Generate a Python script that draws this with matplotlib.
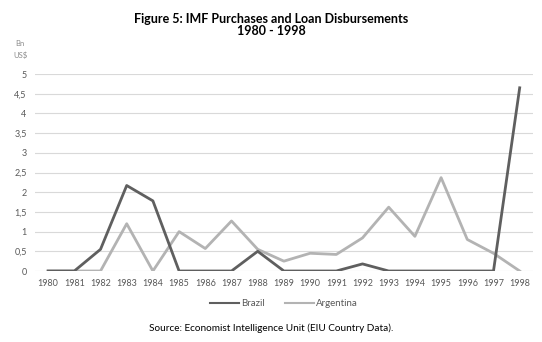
import matplotlib
matplotlib.use("Agg")
import matplotlib.pyplot as plt
from matplotlib.ticker import FuncFormatter

years = [str(y) for y in range(1980, 1999)]
brazil = [0, 0, 0.55, 2.17, 1.78, 0, 0, 0, 0.5, 0, 0, 0, 0.18, 0, 0, 0, 0, 0, 4.65]
argentina = [0, 0, 0, 1.2, 0, 1.0, 0.57, 1.27, 0.55, 0.25, 0.45, 0.42, 0.84,
             1.62, 0.88, 2.37, 0.8, 0.45, 0]
yticks = [0, 0.5, 1, 1.5, 2, 2.5, 3, 3.5, 4, 4.5, 5]

plt.rcParams["font.family"] = ["Lato", "DejaVu Sans"]

fig = plt.figure(figsize=(5.42, 3.42), dpi=100)
ax = fig.add_axes([0.0646, 0.2076, 0.9184, 0.576])

x = list(range(len(years)))
ax.plot(x, brazil, color="#5f5f5f", lw=2.0, label="Brazil", zorder=3)
ax.plot(x, argentina, color="#b3b3b3", lw=2.0, label="Argentina", zorder=2)

ax.set_xlim(-0.5, len(years) - 0.5)
ax.set_ylim(0, 5)
ax.set_xticks(x)
ax.set_xticklabels(years)
ax.set_yticks(yticks)
ax.yaxis.set_major_formatter(FuncFormatter(lambda v, p: f"{v:g}".replace(".", ",")))
ax.grid(axis="y", color="#d9d9d9", lw=0.8)
ax.set_axisbelow(True)
for s in ax.spines.values():
    s.set_visible(False)
ax.tick_params(length=0, labelsize=6.5, colors="#595959", pad=6)

fig.text(0.5, 0.962, "Figure 5: IMF Purchases and Loan Disbursements\n1980 - 1998",
         ha="center", va="top", fontsize=9, fontweight="bold", linespacing=1.0)
fig.text(0.037, 0.855, "Bn\nUS$", ha="center", va="center", fontsize=5.5,
         color="#8c8c8c", linespacing=1.6)

leg = ax.legend(loc="upper center", bbox_to_anchor=(0.5, -0.1), ncol=2, frameon=False,
                fontsize=7, labelcolor="#595959", handlelength=3, handletextpad=0.2,
                columnspacing=2)
for line in leg.get_lines():
    line.set_linewidth(1.5)
fig.text(0.5, 0.04, "Source: Economist Intelligence Unit (EIU Country Data).",
         ha="center", va="center", fontsize=7.2)

fig.savefig("out.png", dpi=100)
